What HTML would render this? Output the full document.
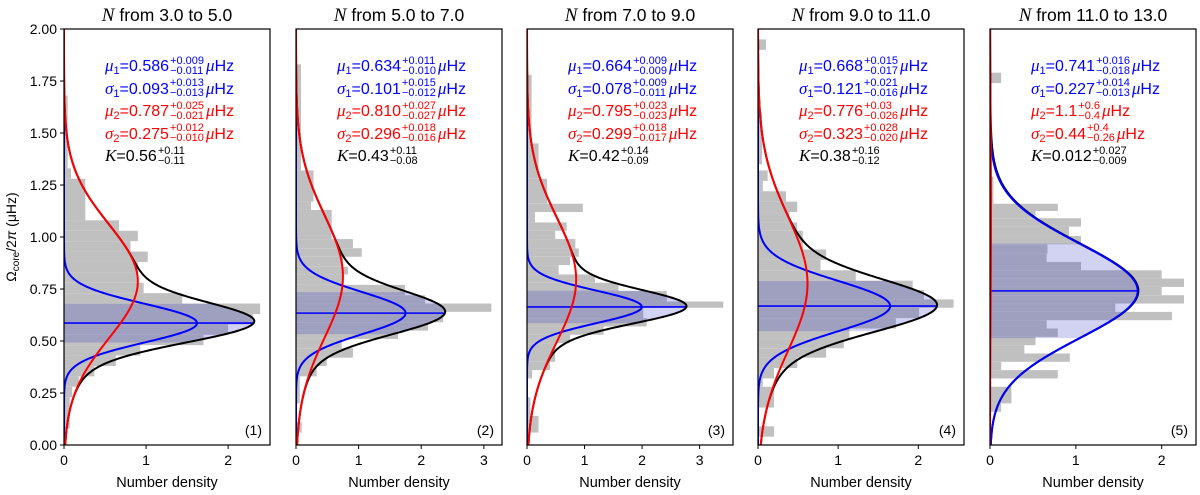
<!DOCTYPE html>
<html><head><meta charset="utf-8"><style>
body{margin:0;background:#fff;width:1200px;height:495px;overflow:hidden;position:relative;font-family:"Liberation Sans","DejaVu Sans",sans-serif}
svg{position:absolute;left:0;top:0}
.ann{position:absolute;font-size:16px;line-height:22.5px;white-space:nowrap}
.ann div{height:22.5px}
.st{display:inline-block;vertical-align:middle;font-size:11px;line-height:10px;margin-left:1px;margin-right:2px;position:relative;top:-1px}
.st span{display:block}
i{font-family:"Liberation Serif","DejaVu Serif",serif;font-size:17px}
sub{font-size:11px;vertical-align:-3px}
</style></head><body>
<svg id="chart" width="1200" height="495" xmlns="http://www.w3.org/2000/svg"></svg>
<div id="anns"></div>
<script>
const titles = ["from 3.0 to 5.0","from 5.0 to 7.0","from 7.0 to 9.0","from 9.0 to 11.0","from 11.0 to 13.0"];
const mu1 = [0.586,0.634,0.664,0.668,0.741];
const sig1 = [0.093,0.101,0.078,0.121,0.227];
const mu2 = [0.787,0.810,0.795,0.776,1.1];
const sig2 = [0.275,0.296,0.299,0.323,0.44];
const w1 = [0.378,0.443,0.39,0.50,0.979];
const w2 = [0.62,0.556,0.64,0.50,0.012];
const xMax = [2.51,3.29,3.58,2.57,2.4];
const xTicks = [[0,1,2],[0,1,2,3],[0,1,2,3],[0,1,2],[0,1,2]];
const yTicks = [0,0.25,0.5,0.75,1.0,1.25,1.5,1.75,2.0];
const annMu1 = [["0.586","+0.009","−0.011"],["0.634","+0.011","−0.010"],["0.664","+0.009","−0.009"],["0.668","+0.015","−0.017"],["0.741","+0.016","−0.018"]];
const annSig1 = [["0.093","+0.013","−0.013"],["0.101","+0.015","−0.012"],["0.078","+0.009","−0.011"],["0.121","+0.021","−0.016"],["0.227","+0.014","−0.013"]];
const annMu2 = [["0.787","+0.025","−0.021"],["0.810","+0.027","−0.027"],["0.795","+0.023","−0.023"],["0.776","+0.03","−0.026"],["1.1","+0.6","−0.4"]];
const annSig2 = [["0.275","+0.012","−0.010"],["0.296","+0.018","−0.016"],["0.299","+0.018","−0.017"],["0.323","+0.028","−0.020"],["0.44","+0.4","−0.26"]];
const annK = [["0.56","+0.11","−0.11"],["0.43","+0.11","−0.08"],["0.42","+0.14","−0.09"],["0.38","+0.16","−0.12"],["0.012","+0.027","−0.009"]];
const histLo = [
 [0.03,0.08,0.13,0.18,0.23,0.28,0.33,0.38,0.43,0.48,0.53,0.58,0.63,0.68,0.73,0.78,0.83,0.88,0.93,0.98,1.03,1.08,1.28,1.33],
 [0.06,0.20,0.33,0.38,0.42,0.465,0.51,0.55,0.59,0.64,0.68,0.72,0.77,0.82,0.857,0.905,0.946,0.99,1.13,1.17,1.32],
 [0.06,0.14,0.32,0.36,0.40,0.49,0.53,0.57,0.61,0.66,0.69,0.74,0.78,0.82,0.865,0.905,0.945,0.99,1.03,1.07,1.12,1.16,1.28,1.45],
 [0.04,0.18,0.28,0.32,0.37,0.42,0.465,0.51,0.56,0.61,0.66,0.70,0.745,0.79,0.84,0.89,0.94,1.03,1.07,1.12,1.17,1.22,1.27,1.35,1.9],
 [0.16,0.20,0.32,0.36,0.40,0.44,0.48,0.52,0.56,0.60,0.64,0.68,0.72,0.76,0.80,0.84,0.88,0.92,0.965,1.005,1.05,1.09,1.125,1.16,1.74]
];
const histHi = [
 [0.08,0.13,0.18,0.23,0.28,0.33,0.38,0.43,0.48,0.53,0.58,0.63,0.68,0.73,0.78,0.83,0.88,0.93,0.98,1.03,1.08,1.28,1.33,1.68],
 [0.11,0.33,0.38,0.42,0.465,0.51,0.55,0.59,0.64,0.68,0.72,0.77,0.82,0.857,0.905,0.946,0.99,1.13,1.17,1.32,1.83],
 [0.14,0.23,0.36,0.40,0.49,0.53,0.57,0.61,0.66,0.69,0.74,0.78,0.82,0.865,0.905,0.945,0.99,1.03,1.07,1.12,1.16,1.28,1.45,1.78],
 [0.09,0.28,0.32,0.37,0.42,0.465,0.51,0.56,0.61,0.66,0.70,0.745,0.79,0.84,0.89,0.94,1.03,1.07,1.12,1.17,1.22,1.27,1.32,1.6,1.95],
 [0.20,0.28,0.36,0.40,0.44,0.48,0.52,0.56,0.60,0.64,0.68,0.72,0.76,0.80,0.84,0.88,0.92,0.965,1.005,1.05,1.09,1.125,1.16,1.29,1.79]
];
const histVal = [
 [0.03,0.07,0.07,0.07,0.1,0.18,0.37,0.63,0.93,1.7,2.0,2.3,2.39,1.44,0.97,0.9,0.9,1.02,0.81,0.9,0.67,0.26,0.085,0.045],
 [0.09,0.06,0.33,0.49,0.91,0.73,1.63,2.11,2.35,3.12,2.06,1.74,0.75,0.83,0.75,1.05,0.91,0.57,0.24,0.28,0.08],
 [0.2,0.06,0.09,0.4,0.49,0.75,1.33,2.08,2.02,3.41,2.43,1.59,1.18,0.55,0.75,0.9,0.84,0.49,0.69,0.14,0.97,0.35,0.2,0.08],
 [0.2,0.2,0.06,0.2,0.49,0.85,1.07,1.14,1.72,2.01,2.44,2.07,1.93,1.22,0.78,0.85,0.56,0.49,0.39,0.49,0.35,0.06,0.12,0.05,0.1],
 [0.13,0.25,0.79,0.13,0.93,0.4,0.53,0.79,0.66,2.12,1.46,2.26,2.0,2.26,2.0,1.06,0.66,0.67,1.06,0.92,1.06,0.53,0.79,0.04,0.13]
];

const NS="http://www.w3.org/2000/svg";
const svg=document.getElementById('chart');
const L=[64,296,527,758,990], W=206, TOP=29, BOT=445;
function mk(tag,attrs,parent){const e=document.createElementNS(NS,tag);for(const k in attrs)e.setAttribute(k,attrs[k]);(parent||svg).appendChild(e);return e;}
function gauss(y,m,s){return Math.exp(-0.5*((y-m)/s)**2)/(s*Math.sqrt(2*Math.PI));}
const yS=v=>BOT-(v/2)*(BOT-TOP);
const defs=mk('defs',{});
for(let p=0;p<5;p++){
  const xS=v=>L[p]+v/xMax[p]*W;
  const cp=mk('clipPath',{id:'c'+p},defs);mk('rect',{x:L[p],y:TOP,width:W,height:BOT-TOP},cp);
  const g=mk('g',{'clip-path':'url(#c'+p+')'});
  
  
  for(let i=0;i<histVal[p].length;i++){
    const r=mk('rect',{x:xS(0),y:yS(histHi[p][i]),width:xS(histVal[p][i])-xS(0),height:yS(histLo[p][i])-yS(histHi[p][i]),fill:'#c0c0c0'},g);
    
    
  }
  const tot=y=>w1[p]*gauss(y,mu1[p],sig1[p])+w2[p]*gauss(y,mu2[p],sig2[p]);
  let lo=mu1[p]-sig1[p],hi=mu1[p]+sig1[p];let pts=[[xS(0),yS(lo)]];
  for(let k=0;k<=100;k++){const y=lo+(hi-lo)*k/100;pts.push([xS(tot(y)),yS(y)]);}
  pts.push([xS(0),yS(hi)]);
  const band=mk('polygon',{points:pts.map(a=>a.join(',')).join(' '),fill:'rgba(30,30,190,0.2)'},g);
  
  
  const ml=mk('line',{x1:xS(0),x2:xS(tot(mu1[p])),y1:yS(mu1[p]),y2:yS(mu1[p]),stroke:'#0000ff','stroke-width':1.6},g);
  
  
  const curves=[['total-curve','#000',tot],['blue-component',"#0000ff",y=>w1[p]*gauss(y,mu1[p],sig1[p])],['red-component','#ff0000',y=>w2[p]*gauss(y,mu2[p],sig2[p])]];
  for(const [nm,col,f] of curves){
    let d='';for(let k=0;k<=500;k++){const y=2*k/500;d+=(k?'L':'M')+xS(f(y)).toFixed(2)+','+yS(y).toFixed(2);}
    const pa=mk('path',{d:d,fill:'none',stroke:col,'stroke-width':2},g);
    
    
  }
  const fr=mk('rect',{x:L[p],y:TOP,width:W,height:BOT-TOP,fill:'none',stroke:'#000','stroke-width':1.2});
  
  
  for(const t of xTicks[p]){
    mk('line',{x1:xS(t),x2:xS(t),y1:BOT,y2:BOT+4,stroke:'#000'});
    const tx=mk('text',{x:xS(t),y:BOT+20,'text-anchor':'middle','font-size':14});
    tx.textContent=t;
    
    
  }
  const xl=mk('text',{x:L[p]+W/2,y:BOT+42,'text-anchor':'middle','font-size':14.5});
  xl.textContent='Number density';
  
  
  const pl=mk('text',{x:L[p]+W-8,y:BOT-10,'text-anchor':'end','font-size':14});
  pl.textContent='('+(p+1)+')';
  
  
  const tt=mk('text',{x:L[p]+W/2,y:21,'text-anchor':'middle','font-size':17.5});
  const ts=mk('tspan',{'font-family':'Liberation Serif, serif','font-style':'italic','font-size':19},tt);ts.textContent='N';
  const ts2=mk('tspan',{},tt);ts2.textContent=' '+titles[p];
  
  
  const a=document.createElement('div');a.className='ann';a.style.left=(L[p]+41)+'px';a.style.top='55px';
  
  
  const rows=[['μ','1',annMu1[p],'#0000ff',true],['σ','1',annSig1[p],'#0000ff',true],['μ','2',annMu2[p],'#ff0000',true],['σ','2',annSig2[p],'#ff0000',true],['K','',annK[p],'#000',false]];
  for(const [s,sb,v,c,u] of rows){
    a.innerHTML+=`<div style="color:${c}"><i>${s}</i>${sb?'<sub>'+sb+'</sub>':''}=${v[0]}<span class="st"><span>${v[1]}</span><span>${v[2]}</span></span>${u?'<i>μ</i>Hz':''}</div>`;
  }
  document.getElementById('anns').appendChild(a);
}
for(const t of yTicks){
  mk('line',{x1:L[0]-4,x2:L[0],y1:yS(t),y2:yS(t),stroke:'#000'});
  const tx=mk('text',{x:L[0]-7,y:yS(t)+5,'text-anchor':'end','font-size':14});
  tx.textContent=t.toFixed(2);
  
  
}
const yl=mk('text',{x:0,y:0,transform:'translate(16,237) rotate(-90)','text-anchor':'middle','font-size':14});
yl.innerHTML='Ω<tspan font-size="10" dy="3">core</tspan><tspan dy="-3">/2</tspan><tspan font-style="italic">π</tspan> (μHz)';


</script>
</body></html>
